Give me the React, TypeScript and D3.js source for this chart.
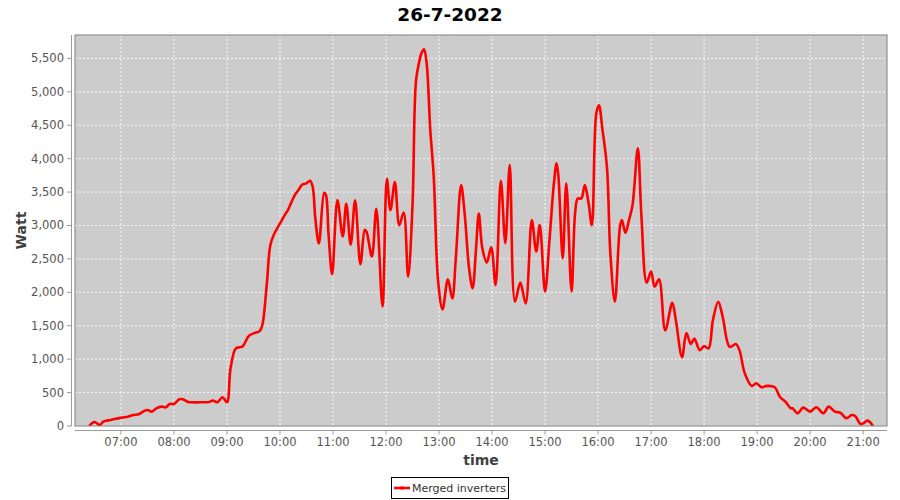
import React from "react";
import * as d3 from "d3";

const title = "26-7-2022";
const seriesName = "Merged inverters";
const yLabel = "Watt";
const xLabel = "time";

const times: string[] = [
  "06:24","06:30","06:36","06:40","06:48","06:53","07:01","07:08","07:14","07:20",
  "07:25","07:30","07:35","07:40","07:46","07:51","07:55","08:00","08:06","08:10",
  "08:16","08:20","08:30","08:40","08:44","08:49","08:55","09:00","09:04","09:10",
  "09:15","09:18","09:25","09:32","09:37","09:40","09:45","09:49","09:53","10:00",
  "10:06","10:09","10:14","10:17","10:21","10:25","10:30","10:34","10:37","10:40",
  "10:44","10:50","10:52","10:55","10:59","11:05","11:11","11:15","11:20","11:25",
  "11:31","11:36","11:38","11:44","11:49","11:56","12:01","12:05","12:10","12:15",
  "12:20","12:25","12:30","12:34","12:38","12:40","12:43","12:46","12:50","12:54",
  "12:59","13:04","13:10","13:15","13:19","13:25","13:29","13:34","13:38","13:42",
  "13:45","13:49","13:54","13:59","14:04","14:10","14:15","14:20","14:26","14:32",
  "14:38","14:45","14:50","14:54","15:00","15:05","15:10","15:13","15:15","15:20",
  "15:24","15:30","15:34","15:37","15:41","15:45","15:49","15:53","15:58","16:01",
  "16:05","16:10","16:14","16:19","16:25","16:27","16:31","16:35","16:39","16:45",
  "16:49","16:55","17:00","17:04","17:09","17:16","17:24","17:28","17:35","17:40",
  "17:45","17:49","17:55","18:00","18:05","18:10","18:16","18:21","18:29","18:36",
  "18:40","18:46","18:54","18:59","19:05","19:11","19:20","19:26","19:32","19:38",
  "19:40","19:46","19:52","20:00","20:07","20:15","20:21","20:28","20:34","20:41",
  "20:47","20:51","20:57","21:00","21:05","21:11"
];

const watts: number[] = [
  0,60,15,65,90,105,125,140,165,175,
  215,240,215,265,290,280,330,330,400,400,
  360,355,355,360,380,355,430,355,860,1160,
  1180,1195,1350,1395,1420,1510,2110,2700,2860,3030,
  3170,3230,3380,3460,3530,3610,3630,3670,3580,3105,
  2730,3490,3455,2860,2270,3380,2835,3325,2715,3375,
  2420,2935,2905,2535,3250,1790,3700,3230,3650,3005,
  3195,2235,3305,5175,5475,5575,5635,5425,4450,3730,
  2160,1745,2195,1910,2510,3605,3180,2360,2060,2680,
  3180,2660,2445,2675,2110,3670,2735,3905,1860,2145,
  1835,3080,2610,3005,2010,2780,3630,3930,3755,2510,
  3630,2010,3180,3405,3405,3605,3355,3005,4680,4800,
  4430,3880,2560,1860,3005,3080,2890,3080,3305,4155,
  3155,2145,2310,2085,2195,1430,1845,1585,1030,1390,
  1225,1310,1135,1195,1160,1585,1860,1635,1185,1225,
  1135,790,600,640,580,600,580,430,365,265,
  265,190,275,215,280,190,290,215,200,115,
  165,150,30,40,80,5
];

const xDomain: string[] = ["06:08", "21:27"];
const xTickTimes: string[] = [
  "07:00","08:00","09:00","10:00","11:00","12:00","13:00","14:00",
  "15:00","16:00","17:00","18:00","19:00","20:00","21:00"
];
const yMax = 5850;
const yTicks: number[] = [0,500,1000,1500,2000,2500,3000,3500,4000,4500,5000,5500];

const toDate = (s: string) => {
  const [h, m] = s.split(":").map(Number);
  return new Date(2022, 6, 26, h, m);
};

export default function App() {
  const W = 900, H = 500;
  const left = 75, right = 887, top = 35, bottom = 426;
  const x = d3.scaleTime().domain(xDomain.map(toDate)).range([left, right]);
  const y = d3.scaleLinear().domain([0, yMax]).range([bottom, top]);
  const data = times.map((t, i) => ({ t: toDate(t), v: watts[i] }));
  const line = d3
    .line<{ t: Date; v: number }>()
    .x((d) => x(d.t))
    .y((d) => y(d.v))
    .curve(d3.curveCatmullRom.alpha(0.5));
  const fmtY = d3.format(",");
  const fmtX = d3.timeFormat("%H:%M");
  const font = "'DejaVu Sans', sans-serif";
  const tickColor = "#555555";
  const axisColor = "#9a9a9a";

  return (
    <svg
      width={W}
      height={H}
      style={{ position: "absolute", left: 0, top: 0, background: "#fff" }}
      fontFamily={font}
    >
      <rect x={0} y={0} width={W} height={H} fill="#ffffff" />
      <text x={450} y={21} textAnchor="middle" fontSize={18.5} fontWeight="bold" fill="#000">
        {title}
      </text>
      <defs>
        <clipPath id="plotclip">
          <rect x={left} y={top} width={right - left} height={bottom - top} />
        </clipPath>
      </defs>
      <rect x={left} y={top} width={right - left} height={bottom - top} fill="#cccccc" />
      {xTickTimes.map((t) => (
        <line
          key={"gx" + t}
          x1={x(toDate(t))}
          x2={x(toDate(t))}
          y1={top}
          y2={bottom}
          stroke="#ffffff"
          strokeOpacity={0.85}
          strokeWidth={1}
          strokeDasharray="2,2"
        />
      ))}
      {yTicks.map((v) => (
        <line
          key={"gy" + v}
          x1={left}
          x2={right}
          y1={y(v)}
          y2={y(v)}
          stroke="#ffffff"
          strokeOpacity={0.85}
          strokeWidth={1}
          strokeDasharray="2,2"
        />
      ))}
      <path
        d={line(data) || ""}
        fill="none"
        stroke="#ff0000"
        strokeWidth={2.6}
        strokeLinejoin="round"
        clipPath="url(#plotclip)"
      />
      <rect
        x={left}
        y={top}
        width={right - left}
        height={bottom - top}
        fill="none"
        stroke="#808080"
        strokeWidth={1}
      />
      {/* Y axis */}
      <line x1={71.5} x2={71.5} y1={top} y2={bottom} stroke={axisColor} strokeWidth={1} />
      {yTicks.map((v) => (
        <g key={"ty" + v}>
          <line x1={67} x2={71.5} y1={y(v)} y2={y(v)} stroke={axisColor} strokeWidth={1} />
          <text x={64} y={y(v) + 4} textAnchor="end" fontSize={11.5} fill={tickColor}>
            {fmtY(v)}
          </text>
        </g>
      ))}
      <text
        transform={`translate(26, ${(top + bottom) / 2}) rotate(-90)`}
        textAnchor="middle"
        fontSize={14}
        fontWeight="bold"
        fill="#404040"
      >
        {yLabel}
      </text>
      {/* X axis */}
      <line x1={left} x2={right} y1={430.5} y2={430.5} stroke={axisColor} strokeWidth={1} />
      {xTickTimes.map((t) => (
        <g key={"tx" + t}>
          <line
            x1={x(toDate(t))}
            x2={x(toDate(t))}
            y1={430.5}
            y2={434.5}
            stroke={axisColor}
            strokeWidth={1}
          />
          <text x={x(toDate(t))} y={446} textAnchor="middle" fontSize={11.5} fill={tickColor}>
            {fmtX(toDate(t))}
          </text>
        </g>
      ))}
      <text
        x={(left + right) / 2}
        y={465}
        textAnchor="middle"
        fontSize={14}
        fontWeight="bold"
        fill="#404040"
      >
        {xLabel}
      </text>
      {/* Legend */}
      <rect x={391.5} y={477.5} width={117} height={21} fill="#ffffff" stroke="#000000" strokeWidth={1} />
      <line x1={394} x2={410} y1={488} y2={488} stroke="#ff0000" strokeWidth={2.6} />
      <rect x={400.5} y={486.5} width={3} height={3} fill="#ff0000" />
      <text x={412} y={492} fontSize={11} fill="#333333">
        {seriesName}
      </text>
    </svg>
  );
}
